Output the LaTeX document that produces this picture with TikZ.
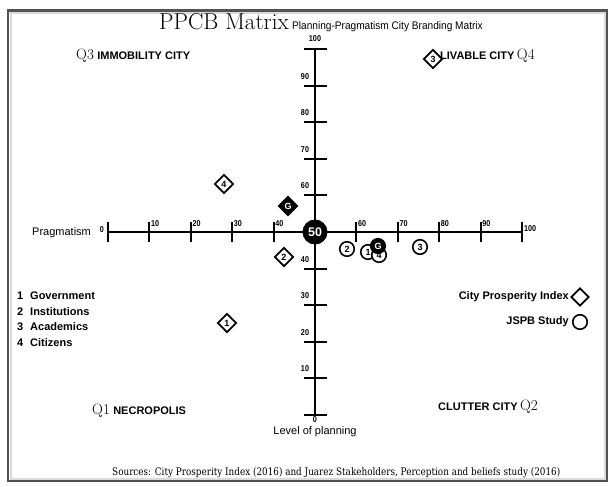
\documentclass[tikz,border=0pt]{standalone}
\usepackage{fontspec}
\usepackage{graphicx}
\usetikzlibrary{shapes.geometric}
\newfontfamily\arialf{Liberation Sans}
\newfontfamily\narrowf[FakeStretch=0.85]{Liberation Sans}
\newfontfamily\subf[FakeStretch=0.92]{Liberation Sans}
\newfontfamily\srcf[FakeStretch=0.85]{DejaVu Serif}
\begin{document}
\begin{tikzpicture}[x=1pt,y=-1pt,
  sfl/.style={font=\arialf\fontsize{11}{13}\selectfont, inner sep=0pt},
  sfb/.style={font=\arialf\bfseries\fontsize{11}{13}\selectfont, inner sep=0pt},
  qlbl/.style={font=\fontsize{15}{16}\selectfont, inner sep=0pt},
  ticklbl/.style={font=\narrowf\bfseries\fontsize{8.5}{9}\selectfont, inner sep=0pt},
  axisline/.style={line width=2.6pt},
  tickline/.style={line width=2pt},
  cpi/.style={diamond, draw, fill=white, line width=1.7pt, minimum size=19pt, inner sep=0pt, font=\arialf\bfseries\fontsize{9}{9}\selectfont},
  cpig/.style={cpi, fill=black, text=white},
  jspb/.style={circle, draw, fill=white, line width=1.6pt, minimum size=14.5pt, inner sep=0pt, font=\arialf\bfseries\fontsize{9}{9}\selectfont},
  jspbg/.style={jspb, fill=black, text=white},
]
\useasboundingbox (0,0) rectangle (611,487);
\fill[white] (0,0) rectangle (611,487);
\draw[gray!30, line width=2pt] (10.5,13) rectangle (604.5,478.5);
\draw[gray!65!black, line width=2.5pt] (8,10.5) rectangle (607,481);

% axes
\coordinate (hL) at (108,232);
\coordinate (hR) at (522,232);
\coordinate (vT) at (315,49);
\coordinate (vB) at (315,415);
\draw[axisline] (hL) -- (hR);
\draw[axisline] (vT) -- (vB);

% horizontal ticks
\foreach \i in {0,1,2,3,4,6,7,8,9,10}
  \draw[tickline] (108+41.4*\i,222) -- (108+41.4*\i,242);
\foreach \i/\t in {1/10,2/20,3/30,4/40,6/60,7/70,8/80,9/90}
  \node[ticklbl, anchor=west] (hx\i) at (109.5+41.4*\i,223.5) {\t};
\node[ticklbl, anchor=east] (hx0) at (104,230) {0};
\node[ticklbl, anchor=west] (hx10) at (524,229) {100};

% vertical ticks
\foreach \i in {0,1,2,3,4,6,7,8,9,10}
  \draw[tickline] (304,49+36.6*\i) -- (327,49+36.6*\i);
\foreach \i/\t in {1/90,2/80,3/70,4/60,6/40,7/30,8/20,9/10}
  \node[ticklbl] (vy\i) at (305,39.5+36.6*\i) {\t};
\node[ticklbl] (vy0) at (315,39) {100};
\node[ticklbl] (vy10) at (315,420) {0};

\node[circle, fill=black, minimum size=25pt, inner sep=0pt, text=white,
      font=\arialf\bfseries\fontsize{12.5}{14}\selectfont] (c50) at (315,232) {50};

% title
\node[anchor=base west, inner sep=0pt, font=\fontsize{23}{25}\selectfont] (title) at (159,30) {PPCB Matrix};
\node[anchor=base west, inner sep=0pt, font=\subf\fontsize{11}{13}\selectfont] (subtitle) at ([xshift=3pt]title.base east) {Planning-Pragmatism City Branding Matrix};

% quadrant labels
\node[qlbl, anchor=base west] (q3) at (76,60) {Q3};
\node[sfb, anchor=base west] (q3t) at ([xshift=3pt]q3.base east) {IMMOBILITY CITY};
\node[sfb, anchor=base west] (q4t) at (440,60) {LIVABLE CITY};
\node[qlbl, anchor=base west] (q4) at ([xshift=2pt]q4t.base east) {Q4};
\node[qlbl, anchor=base west] (q1) at (92,414) {Q1};
\node[sfb, anchor=base west] (q1t) at ([xshift=3pt]q1.base east) {NECROPOLIS};
\node[sfb, anchor=base west] (q2t) at (438,410) {CLUTTER CITY};
\node[qlbl, anchor=base west] (q2) at ([xshift=2pt]q2t.base east) {Q2};

% axis titles
\node[sfl, anchor=west] (prag) at (32,233) {Pragmatism};
\node[sfl] (lop) at (315,432) {Level of planning};

% left legend
\node[sfb, anchor=base west] (n1) at (17,299) {1};
\node[sfb, anchor=base west] (w1) at (30,299) {Government};
\node[sfb, anchor=base west] (n2) at (17,315) {2};
\node[sfb, anchor=base west] (w2) at (30,315) {Institutions};
\node[sfb, anchor=base west] (n3) at (17,330.5) {3};
\node[sfb, anchor=base west] (w3) at (30,330.5) {Academics};
\node[sfb, anchor=base west] (n4) at (17,346) {4};
\node[sfb, anchor=base west] (w4) at (30,346) {Citizens};

% right legend
\node[cpi, minimum size=18pt] (lcpi) at (580,297) {};
\node[sfb, anchor=east] (lcpit) at (569,297) {City Prosperity Index};
\node[jspb] (ljs) at (580,322) {};
\node[sfb, anchor=east] (ljst) at (569,322) {JSPB Study};

% sources
\node[anchor=base west, inner sep=0pt] (src) at (112,475) {\resizebox{448pt}{!}{\srcf\fontsize{9}{10}\selectfont Sources: City Prosperity Index (2016) and Juarez Stakeholders, Perception and beliefs study (2016)}};

% data markers: City Prosperity Index
\node[cpi] (d4) at (224,184) {4};
\node[cpig] (dG) at (288,206) {G};
\node[cpi] (d2) at (284,257) {2};
\node[cpi] (d1) at (227,323) {1};
\node[cpi] (d3) at (433,59) {3};

% data markers: JSPB study
\node[jspb] (c2) at (347,249) {2};
\node[jspb] (c1) at (368,252) {1};
\node[jspb] (c4) at (379,255) {4};
\node[jspbg] (cG) at (378,246) {G};
\node[jspb] (c3) at (420,247) {3};
\end{tikzpicture}
\end{document}
